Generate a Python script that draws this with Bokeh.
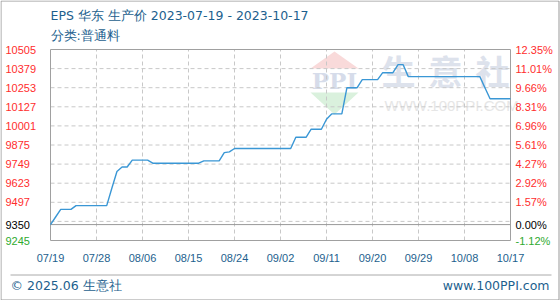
from bokeh.plotting import figure
from bokeh.models import Range1d, ColumnDataSource
from bokeh.core.properties import value
from bokeh.embed import file_html
from bokeh.resources import INLINE

# ---------------- data ----------------
title_text = "EPS 华东 生产价 2023-07-19 - 2023-10-17"
subtitle_text = "分类:普通料"
footer_left = "© 2025.06 生意社"
footer_right = "www.100PPI.com"
watermark_chars = ["生", "意", "社"]
watermark_url = "WWW.100PPI.COM"
prices = [
    9350, 9400, 9450, 9450, 9450, 9475, 9475, 9475, 9475, 9475,
    9475, 9475, 9590, 9700, 9730, 9730, 9775, 9775, 9775, 9775,
    9755, 9755, 9755, 9755, 9755, 9755, 9755, 9755, 9755, 9755,
    9770, 9770, 9770, 9770, 9825, 9830, 9852, 9852, 9852, 9852,
    9852, 9852, 9852, 9852, 9852, 9852, 9852, 9852, 9926, 9926,
    9926, 9979, 9979, 9979, 10045, 10080, 10080, 10080, 10253, 10253,
    10253, 10306, 10306, 10306, 10306, 10352, 10352, 10352, 10405, 10405,
    10326, 10326, 10326, 10326, 10326, 10326, 10326, 10326, 10326, 10326,
    10326, 10326, 10326, 10326, 10326, 10253, 10180, 10180, 10180, 10180,
    10180,
]
base_price = 9350
y_tick_values = [10505, 10379, 10253, 10127, 10001, 9875, 9749, 9623, 9497, 9350, 9245]
y_tick_labels = ["10505", "10379", "10253", "10127", "10001", "9875", "9749",
                 "9623", "9497", "9350", "9245"]
pct_labels = ["12.35%", "11.01%", "9.66%", "8.31%", "6.96%", "5.61%", "4.27%",
              "2.92%", "1.57%", "0.00%", "-1.12%"]
grid_values = [10379, 10253, 10127, 10001, 9875, 9749, 9623, 9497, 9371]
x_tick_days = [0, 9, 18, 27, 36, 45, 54, 63, 72, 81, 90]
x_tick_labels = ["07/19", "07/28", "08/06", "08/15", "08/24", "09/02",
                 "09/11", "09/20", "09/29", "10/08", "10/17"]

# ---------------- style / layout ----------------
RED, BLACK, GREEN = "#ff2d2d", "#000000", "#2faa2f"
label_colors = [RED] * 9 + [BLACK, GREEN]
TXT_BLUE = "#1d5f8e"
GRID = "#c8c8c8"
W, H = 560, 300
FL, FR, FT, FB = 50, 510, 49, 240          # plot-area edges in pixels
X0, X1 = 0, len(prices) - 1
Y0, Y1 = min(y_tick_values), max(y_tick_values)

def px_x(px):
    return X0 + (px - FL) / (FR - FL) * (X1 - X0)

def px_y(py):
    return Y1 - (py - FT) / (FB - FT) * (Y1 - Y0)

days = list(range(len(prices)))

# the canvas itself is the frame; the plot area is mapped inside it
p = figure(width=W, height=H, output_backend="svg", toolbar_location=None,
           x_range=Range1d(px_x(0), px_x(W)), y_range=Range1d(px_y(H), px_y(0)),
           x_axis_location=None, y_axis_location=None,
           min_border=0)
p.outline_line_color = None
p.background_fill_color = "white"
p.border_fill_color = "white"
p.grid.visible = False

# watermark
p.patch([px_x(334), px_x(310), px_x(358)], [px_y(51), px_y(68), px_y(68)],
        fill_color="#f9dada", line_color=None)
p.patch([px_x(310), px_x(358), px_x(334)], [px_y(92), px_y(92), px_y(114)],
        fill_color="#daf1dd", line_color=None)
p.text([px_x(334)], [px_y(80)], text=["PPI"], text_align="center",
       text_baseline="middle", text_font=value("DejaVu Serif"),
       text_font_style="bold", text_font_size="23px", text_color="#d6dcea")
p.text([px_x(398), px_x(445), px_x(492)], [px_y(70)] * 3, text=watermark_chars,
       text_align="center", text_baseline="middle",
       text_font=value("Noto Sans CJK SC"), text_font_style="bold",
       text_font_size="34px", text_color="#dde2ec")
p.text([px_x(384)], [px_y(105)], text=[watermark_url], text_align="left",
       text_baseline="middle", text_font=value("Liberation Sans"),
       text_font_size="15px", text_color="#e6e6e6")

# grid lines
inner_days = x_tick_days[1:-1]
p.segment(x0=inner_days, y0=[Y0] * len(inner_days), x1=inner_days, y1=[Y1] * len(inner_days),
          line_color=GRID, line_width=1, line_dash="4 3")
p.segment(x0=[X0] * len(grid_values), y0=grid_values, x1=[X1] * len(grid_values), y1=grid_values,
          line_color=GRID, line_width=1, line_dash="4 3")
# base line
p.segment(x0=[X0], y0=[base_price], x1=[X1], y1=[base_price], line_color="#999999", line_width=1)
# plot-area outline
p.quad(left=[X0], right=[X1], bottom=[Y0], top=[Y1], fill_color=None,
       line_color="#a0a0a0", line_width=1)

# price line
p.line(days, prices, line_color="#3a97d5", line_width=1.4)

# y labels (left values, right percentages)
ysrc = ColumnDataSource(dict(y=y_tick_values, lab=y_tick_labels, pct=pct_labels,
                             col=label_colors,
                             xl=[px_x(5)] * len(y_tick_values),
                             xr=[px_x(515)] * len(y_tick_values)))
p.text(x="xl", y="y", text="lab", source=ysrc, text_color="col",
       text_align="left", text_baseline="middle",
       text_font=value("Liberation Sans"), text_font_size="11px")
p.text(x="xr", y="y", text="pct", source=ysrc, text_color="col",
       text_align="left", text_baseline="middle",
       text_font=value("Liberation Sans"), text_font_size="11px")

# x labels
p.text(x=x_tick_days, y=[px_y(257)] * len(x_tick_days), text=x_tick_labels,
       text_align="center", text_baseline="middle", text_color=TXT_BLUE,
       text_font=value("Liberation Sans"), text_font_size="11px")

# titles
p.text([px_x(50), px_x(50)], [px_y(15), px_y(35)], text=[title_text, subtitle_text],
       text_align="left", text_baseline="middle", text_font=value("DejaVu Sans"),
       text_font_size="12.5px", text_color=TXT_BLUE)

# footer
p.segment(x0=[px_x(10)], y0=[px_y(274.5)], x1=[px_x(551)], y1=[px_y(274.5)],
          line_color="#aaaaaa", line_width=1)
p.text([px_x(10)], [px_y(285)], text=[footer_left], text_align="left",
       text_baseline="middle", text_font=value("DejaVu Sans"),
       text_font_size="12.5px", text_color=TXT_BLUE)
p.text([px_x(549)], [px_y(285)], text=[footer_right], text_align="right",
       text_baseline="middle", text_font=value("DejaVu Sans"),
       text_font_size="12.5px", text_color=TXT_BLUE)

# outer border
p.quad(left=[px_x(0.5)], right=[px_x(558.5)], bottom=[px_y(299.5)], top=[px_y(0.5)],
       fill_color=None, line_color="#999999", line_width=1)

open("out.html", "w").write(file_html(p, INLINE))
